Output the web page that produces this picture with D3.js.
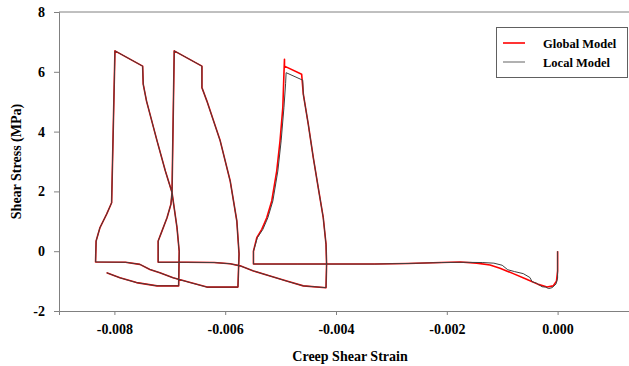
<!DOCTYPE html>
<html>
<head>
<meta charset="utf-8">
<script src="https://cdn.jsdelivr.net/npm/d3@7"></script>
<style>
  body { margin: 0; background: #fff; }
</style>
</head>
<body>
<svg id="chart" width="629" height="366"></svg>
<script>
// [creep shear strain, shear stress (MPa)], in loading order from the origin
const globalModel = [
  [0, 0], [0, -0.66], [-0.00002, -1.0], [-0.00008, -1.16], [-0.00019, -1.20],
  [-0.00035, -1.11], [-0.00056, -0.94], [-0.00080, -0.75], [-0.00104, -0.57],
  [-0.00122, -0.46], [-0.00146, -0.40], [-0.00176, -0.36], [-0.0021, -0.38],
  [-0.0027, -0.41], [-0.0033, -0.43], [-0.0040, -0.43], [-0.0047, -0.43], [-0.00549, -0.43],
  // third loop
  [-0.00549, 0.0], [-0.00543, 0.45], [-0.00534, 0.73], [-0.00525, 1.12], [-0.00516, 1.68],
  [-0.00507, 2.68], [-0.00501, 3.69], [-0.00496, 4.80], [-0.00494, 5.92], [-0.00493, 6.42],
  [-0.00493, 6.19], [-0.00462, 5.92],
  [-0.00459, 5.25], [-0.00450, 4.24], [-0.00441, 3.13], [-0.00432, 2.12], [-0.00423, 1.12],
  [-0.00418, 0.23], [-0.00417, -0.44], [-0.00418, -1.22],
  [-0.00459, -1.16], [-0.00489, -1.0], [-0.00519, -0.83], [-0.00549, -0.66], [-0.00573, -0.49],
  [-0.00591, -0.42], [-0.0062, -0.38], [-0.0067, -0.37], [-0.00721, -0.37],
  // second loop
  [-0.00721, 0.34], [-0.00714, 0.68], [-0.00705, 1.12], [-0.00698, 1.57], [-0.00696, 1.96],
  [-0.00692, 6.70], [-0.00642, 6.19],
  [-0.00642, 5.47], [-0.00633, 5.02], [-0.00609, 3.69], [-0.00591, 2.35], [-0.00579, 1.01],
  [-0.00575, -0.09], [-0.00577, -1.20],
  [-0.00633, -1.20], [-0.00663, -1.05], [-0.00694, -0.89], [-0.00718, -0.72], [-0.00736, -0.61],
  [-0.00754, -0.44], [-0.0078, -0.37], [-0.00834, -0.36],
  // first loop
  [-0.00833, 0.34], [-0.00826, 0.79], [-0.00814, 1.24], [-0.00805, 1.62],
  [-0.00799, 6.70], [-0.00749, 6.19],
  [-0.00748, 5.59], [-0.00742, 5.02], [-0.00723, 3.69], [-0.00708, 2.68], [-0.00696, 1.96],
  [-0.00687, 0.79], [-0.00683, 0.0], [-0.00684, -1.16],
  [-0.00723, -1.16], [-0.00760, -1.05], [-0.00790, -0.89], [-0.00814, -0.72]
];

const localModel = [
  [0, 0], [0, -0.9], [-0.00003, -1.1], [-0.0001, -1.22], [-0.00016, -1.25], [-0.00022, -1.2],
  [-0.00028, -1.19], [-0.00038, -1.07], [-0.00046, -1.02], [-0.00050, -0.88], [-0.00062, -0.75],
  [-0.00078, -0.68], [-0.00090, -0.62], [-0.00100, -0.47], [-0.00115, -0.40], [-0.00135, -0.38],
  [-0.00176, -0.37], [-0.0021, -0.38],
  [-0.0027, -0.41], [-0.0033, -0.43], [-0.0040, -0.43], [-0.0047, -0.43], [-0.00549, -0.43],
  // third loop
  [-0.00549, 0.0], [-0.00542, 0.45], [-0.00532, 0.73], [-0.00523, 1.12], [-0.00514, 1.68],
  [-0.00505, 2.68], [-0.00499, 3.69], [-0.00494, 4.80], [-0.00491, 5.6], [-0.00490, 5.97],
  [-0.00460, 5.72],
  [-0.00459, 5.25], [-0.00450, 4.24], [-0.00441, 3.13], [-0.00432, 2.12], [-0.00423, 1.12],
  [-0.00418, 0.23], [-0.00417, -0.44], [-0.00418, -1.22],
  [-0.00459, -1.16], [-0.00489, -1.0], [-0.00519, -0.83], [-0.00549, -0.66], [-0.00573, -0.49],
  [-0.00591, -0.42], [-0.0062, -0.38], [-0.0067, -0.37], [-0.00721, -0.37],
  // second loop
  [-0.00721, 0.34], [-0.00714, 0.68], [-0.00705, 1.12], [-0.00698, 1.57], [-0.00696, 1.96],
  [-0.00692, 6.70], [-0.00642, 6.19],
  [-0.00642, 5.47], [-0.00633, 5.02], [-0.00609, 3.69], [-0.00591, 2.35], [-0.00579, 1.01],
  [-0.00575, -0.09], [-0.00577, -1.20],
  [-0.00633, -1.20], [-0.00663, -1.05], [-0.00694, -0.89], [-0.00718, -0.72], [-0.00736, -0.61],
  [-0.00754, -0.44], [-0.0078, -0.37], [-0.00834, -0.36],
  // first loop
  [-0.00833, 0.34], [-0.00826, 0.79], [-0.00814, 1.24], [-0.00805, 1.62],
  [-0.00799, 6.70], [-0.00749, 6.19],
  [-0.00748, 5.59], [-0.00742, 5.02], [-0.00723, 3.69], [-0.00708, 2.68], [-0.00696, 1.96],
  [-0.00687, 0.79], [-0.00683, 0.0], [-0.00684, -1.16],
  [-0.00723, -1.16], [-0.00760, -1.05], [-0.00790, -0.89], [-0.00814, -0.72]
];

const xTicks = [-0.008, -0.006, -0.004, -0.002, 0];
const yTicks = [-2, 0, 2, 4, 6, 8];
const seriesNames = ["Global Model", "Local Model"];
const seriesColors = ["#ff0000", "#404040"];

const fontFamily = "'Liberation Serif', 'Times New Roman', serif";
const svg = d3.select("#chart")
  .attr("font-family", fontFamily)
  .attr("font-weight", "bold");
const axisColor = "#808080";

const xScale = d3.scaleLinear().domain([-0.009, 0.002]).range([59, 668.4]);
const yScale = d3.scaleLinear().domain([-2, 8]).range([311, 12]);

// top frame line
svg.append("line")
  .attr("x1", xScale.range()[0]).attr("x2", 629)
  .attr("y1", yScale(8)).attr("y2", yScale(8))
  .attr("stroke", axisColor);

const xAxis = d3.axisBottom(xScale)
  .tickValues(xTicks)
  .tickSize(4)
  .tickPadding(9)
  .tickFormat(d => d.toFixed(3));

const yAxis = d3.axisLeft(yScale)
  .tickValues(yTicks)
  .tickSize(5)
  .tickPadding(9)
  .tickFormat(d => String(d));

const xAxisG = svg.append("g")
  .attr("transform", `translate(0,${yScale(-2)})`)
  .call(xAxis);
const yAxisG = svg.append("g")
  .attr("transform", `translate(${xScale(-0.009)},0)`)
  .call(yAxis);

[xAxisG, yAxisG].forEach(g => {
  g.attr("font-family", fontFamily).attr("font-size", 14);
  g.select(".domain").attr("stroke", axisColor);
  g.selectAll(".tick line").attr("stroke", axisColor);
  g.selectAll(".tick text").attr("fill", "#000");
});

const line = d3.line()
  .x(d => xScale(d[0]))
  .y(d => yScale(d[1]));

svg.append("path")
  .datum(globalModel)
  .attr("fill", "none")
  .attr("stroke", seriesColors[0])
  .attr("stroke-width", 1.6)
  .attr("stroke-linejoin", "round")
  .attr("d", line);

svg.append("path")
  .datum(localModel)
  .attr("fill", "none")
  .attr("stroke", seriesColors[1])
  .attr("stroke-width", 1)
  .attr("stroke-linejoin", "round")
  .attr("d", line);

// axis labels
svg.append("text")
  .attr("x", 350)
  .attr("y", 361)
  .attr("text-anchor", "middle")
  .attr("font-size", 14)
  .text("Creep Shear Strain");

svg.append("text")
  .attr("transform", `translate(21,${(yScale(8) + yScale(-2)) / 2}) rotate(-90)`)
  .attr("text-anchor", "middle")
  .attr("font-size", 14)
  .text("Shear Stress (MPa)");

// legend
const legend = svg.append("g").attr("transform", "translate(496,27)");
legend.append("rect")
  .attr("x", 0.5).attr("y", 0.5)
  .attr("width", 131).attr("height", 50)
  .attr("fill", "#fff")
  .attr("stroke", "#606060");

seriesNames.forEach((name, i) => {
  const yy = 16 + i * 19;
  legend.append("line")
    .attr("x1", 7).attr("x2", 29)
    .attr("y1", yy).attr("y2", yy)
    .attr("stroke", i === 0 ? seriesColors[0] : "#909090")
    .attr("stroke-width", i === 0 ? 1.6 : 1.4);
  legend.append("text")
    .attr("x", 47)
    .attr("y", yy + 4.5)
    .attr("font-size", 12.5)
    .text(name);
});
</script>
</body>
</html>
